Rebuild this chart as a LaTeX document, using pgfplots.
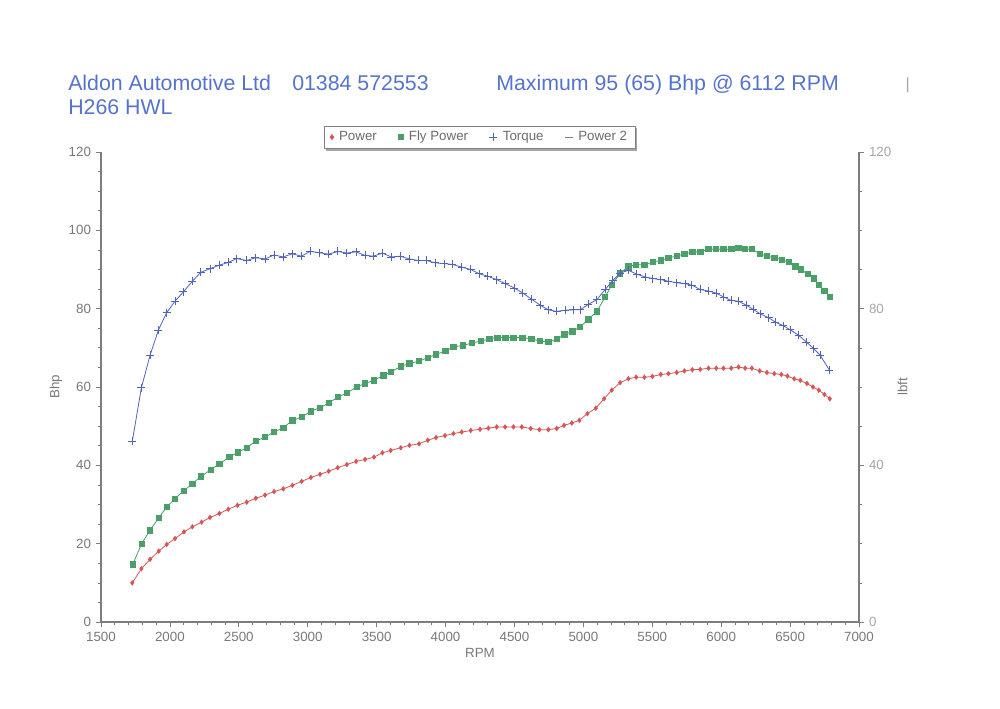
\documentclass[border=0pt]{standalone}
\usepackage{pgfplots}
\pgfplotsset{compat=1.18}
\usepackage{pgfplotstable}
\usepackage{fontspec}
\setmainfont{Liberation Sans}
\usetikzlibrary{shadows,plotmarks}
\definecolor{titleblue}{RGB}{85,115,205}
\definecolor{pwrred}{RGB}{215,85,85}
\definecolor{flygreen}{RGB}{75,160,105}
\definecolor{trqblue}{RGB}{80,100,185}
\definecolor{axgray}{RGB}{125,125,125}
\definecolor{lblgray}{RGB}{120,120,120}

\pgfplotstableread{
rpm val
1727 10.0
1793 13.6
1856 16.0
1919 18.1
1977 19.8
2037 21.3
2102 23.0
2163 24.3
2230 25.5
2291 26.7
2359 27.7
2424 28.8
2490 29.8
2557 30.6
2623 31.6
2690 32.4
2756 33.3
2823 34.0
2889 34.9
2956 35.9
3023 36.9
3089 37.7
3152 38.5
3218 39.4
3284 40.2
3351 41.0
3416 41.5
3481 42.1
3542 43.2
3602 43.8
3675 44.5
3738 45.1
3808 45.5
3871 46.4
3931 47.1
3996 47.6
4057 48.1
4117 48.5
4183 48.9
4250 49.2
4311 49.5
4371 49.8
4432 49.8
4493 49.8
4553 49.8
4618 49.4
4681 49.1
4746 49.1
4807 49.4
4860 50.2
4916 50.8
4971 51.5
5029 53.2
5090 54.6
5150 57.0
5206 59.2
5267 61.1
5327 62.1
5383 62.5
5443 62.5
5501 62.7
5562 63.2
5617 63.4
5678 63.7
5733 64.1
5791 64.4
5848 64.5
5908 64.8
5964 64.8
6017 64.8
6073 64.8
6126 65.1
6174 64.8
6223 64.8
6279 64.1
6332 63.7
6385 63.4
6436 63.2
6481 62.8
6530 62.1
6574 61.7
6622 60.9
6666 60.0
6708 59.2
6749 58.1
6788 57.0
}\power

\pgfplotstableread{
rpm val
1730 14.7
1795 20.0
1855 23.4
1919 26.6
1977 29.4
2037 31.5
2100 33.5
2163 35.3
2226 37.2
2298 38.9
2359 40.4
2431 42.1
2492 43.3
2557 44.5
2623 46.2
2690 47.2
2756 48.5
2823 49.6
2889 51.5
2956 52.3
3021 53.8
3089 54.7
3152 55.9
3218 57.4
3284 58.5
3356 60.0
3416 60.9
3481 61.7
3549 63.0
3602 63.8
3677 65.3
3738 66.0
3808 66.6
3871 67.5
3931 68.3
3999 69.2
4057 70.2
4124 70.6
4190 71.2
4255 71.7
4318 72.3
4376 72.6
4434 72.6
4492 72.6
4557 72.6
4622 72.3
4686 71.7
4746 71.5
4807 72.2
4862 73.4
4920 74.2
4976 75.3
5037 77.3
5098 79.3
5158 83.0
5206 86.0
5267 89.0
5327 90.8
5383 91.2
5443 91.2
5504 91.9
5562 92.3
5617 93.0
5678 93.4
5733 94.0
5791 94.5
5848 94.5
5908 95.2
5964 95.2
6017 95.2
6073 95.2
6126 95.5
6174 95.2
6223 95.2
6279 94.0
6332 93.4
6385 93.0
6441 92.5
6489 91.9
6538 90.8
6580 90.0
6628 88.8
6671 87.7
6708 86.0
6749 84.5
6788 83.0
}\flypower

\pgfplotstableread{
rpm val
1727 46.1
1793 59.8
1856 68.1
1916 74.5
1977 79.0
2037 81.9
2098 84.3
2163 87.0
2224 89.3
2291 90.2
2357 91.1
2424 91.8
2485 92.8
2557 92.3
2620 93.0
2690 92.7
2756 93.7
2821 93.2
2889 94.0
2954 93.4
3017 94.6
3083 94.3
3150 93.9
3218 94.6
3284 94.2
3351 94.5
3416 93.6
3477 93.4
3542 94.2
3605 93.2
3670 93.4
3738 92.7
3803 92.3
3864 92.3
3924 91.7
3991 91.5
4050 91.3
4117 90.6
4183 90.0
4245 88.9
4306 88.3
4371 87.4
4434 86.4
4497 85.3
4560 84.0
4625 82.4
4686 80.9
4746 79.7
4807 79.3
4867 79.6
4928 79.7
4976 79.7
5037 81.1
5098 82.3
5158 84.9
5214 87.2
5267 89.1
5327 89.8
5388 88.8
5448 88.1
5504 87.7
5562 87.4
5617 87.0
5678 86.6
5738 86.4
5787 86.0
5848 84.9
5908 84.5
5962 84.0
6017 83.0
6073 82.1
6126 81.9
6181 80.9
6234 79.8
6283 78.7
6344 77.7
6392 76.6
6448 75.7
6501 74.6
6562 73.2
6618 71.5
6671 69.8
6719 68.1
6785 64.3
}\torque

\begin{document}
\begin{tikzpicture}
\path[use as bounding box] (0,0) rectangle (750pt,531pt);

% header text
\node[anchor=base west, inner sep=0, text=titleblue, font=\fontsize{16}{18}\selectfont] at (51pt,463pt) {Aldon Automotive Ltd};
\node[anchor=base west, inner sep=0, text=titleblue, font=\fontsize{16}{18}\selectfont] at (219pt,463pt) {01384 572553};
\node[anchor=base west, inner sep=0, text=titleblue, font=\fontsize{16}{18}\selectfont] at (372pt,463pt) {Maximum 95 (65) Bhp @ 6112 RPM};
\node[anchor=base west, inner sep=0, text=titleblue, font=\fontsize{16}{18}\selectfont] at (51pt,445pt) {H266 HWL};
\node[anchor=base west, inner sep=0, text=gray!70, font=\fontsize{12}{14}\selectfont] at (679pt,464pt) {|};

\pgfplotsset{
  dyno/.style={
    at={(75.75pt,64.5pt)}, anchor=south west,
    scale only axis, width=568.5pt, height=352.5pt,
    xmin=1500, xmax=7000, ymin=0, ymax=120,
    axis line style={axgray, line width=0.8pt},
    tick style={axgray, line width=0.5pt},
    tick align=outside,
    major tick length=4pt, minor tick length=2.5pt,
    tick label style={text=lblgray, font=\fontsize{10}{12}\selectfont},
    label style={text=lblgray, font=\fontsize{10}{12}\selectfont},
    /pgf/number format/assume math mode=true,
    /pgf/number format/set thousands separator={},
    clip=false,
  }
}

\begin{axis}[dyno,
  axis x line*=bottom, axis y line*=left,
  xtick={1500,2000,...,7000}, minor x tick num=4,
  ytick={0,20,...,120}, minor y tick num=3,
  xlabel={RPM}, ylabel={Bhp},
  xlabel style={yshift=2pt},
  ylabel style={yshift=-2pt},
  legend columns=4,
  legend style={at={(0.5,1)}, anchor=south, yshift=2.5pt,
    draw=gray, fill=white, line width=0.6pt,
    drop shadow={shadow xshift=1.2pt, shadow yshift=-1.8pt, fill=gray!70, opacity=1},
    font=\fontsize{10}{12}\selectfont, text=gray!85!black,
    inner xsep=4pt, inner ysep=2pt,
    /tikz/every odd column/.append style={column sep=2pt},
    /tikz/every even column/.append style={column sep=14pt}},
  legend cell align=left,
]
\addlegendimage{only marks, mark=diamond*, mark size=1.8pt, color=pwrred}
\addlegendentry{Power}
\addlegendimage{only marks, mark=square*, mark size=2pt, color=flygreen}
\addlegendentry{Fly Power}
\addlegendimage{only marks, mark=+, mark size=3pt, color=trqblue}
\addlegendentry{Torque}
\addlegendimage{only marks, mark=-, mark size=3pt, color=gray}
\addlegendentry{Power 2}

\addplot[forget plot, color=pwrred, line width=0.6pt, mark=diamond*, mark size=1.6pt] table[x=rpm, y=val] {\power};
\addplot[forget plot, color=flygreen, line width=0.6pt, mark=square*, mark size=2pt] table[x=rpm, y=val] {\flypower};
\end{axis}

\begin{axis}[dyno,
  axis x line=none, axis y line*=right,
  ytick={0,40,80,120}, minor y tick num=3,
  ylabel={lbft},
  ylabel style={yshift=2pt},
  tick label style={text=gray!70},
]
\addplot[color=trqblue, line width=0.6pt, mark=+, mark size=3pt] table[x=rpm, y=val] {\torque};
\end{axis}
\end{tikzpicture}
\end{document}
